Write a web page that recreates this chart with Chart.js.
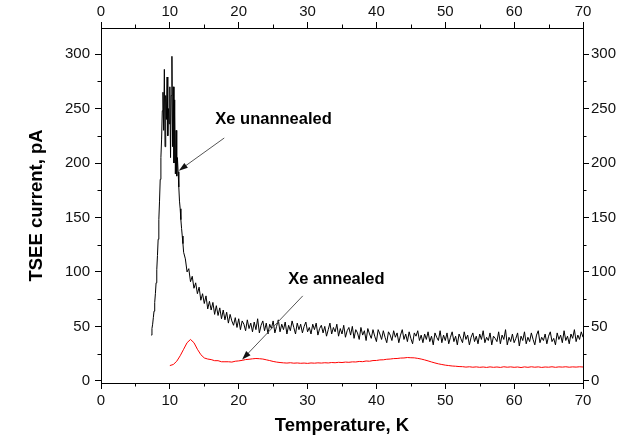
<!DOCTYPE html>
<html>
<head>
<meta charset="utf-8">
<script src="https://cdn.jsdelivr.net/npm/chart.js@4"></script>
<style>
  html, body { margin: 0; padding: 0; background: #fff; }
</style>
</head>
<body>
<canvas id="chart" width="625" height="440"></canvas>
<script>
// ---------------------------------------------------------------------
// Data (temperature in K, TSEE current in pA)
// ---------------------------------------------------------------------
const X_TICKS = [0, 10, 20, 30, 40, 50, 60, 70];
const Y_TICKS = [0, 50, 100, 150, 200, 250, 300];
const X_MINOR = [5, 15, 25, 35, 45, 55, 65];
const Y_MINOR = [25, 75, 125, 175, 225, 275];

// Xe unannealed, rise + peak, sampled every 0.1 K from 7.3 K
const unannealedPeakStart = 7.3;
const unannealedPeakStep = 0.1;
const unannealedPeak = [
  42, 48, 52, 58, 64, 72, 80, 90, 102, 115,
  130, 148, 165, 185, 205, 222, 248, 265, 230, 286,
  215, 262, 240, 279, 225, 250, 236, 270, 205, 262,
  298, 215, 270, 200, 258, 190, 230, 188, 205, 192,
  178, 165, 158, 148, 140, 133, 126, 118
];

// Xe unannealed, decay + noisy tail, sampled every 0.25 K from 12.25 K
const unannealedTailStart = 12.25;
const unannealedTailStep = 0.25;
const unannealedTail = [
  112, 100, 103, 91, 96, 85, 90, 80, 86, 74,
  80, 71, 78, 66, 73, 65, 72, 61, 69, 60,
  67, 57, 65, 56, 63, 53, 61, 55, 51, 58,
  49, 57, 47, 55, 52, 46, 56, 48, 53, 45,
  54, 47, 57, 44, 51, 55, 46, 53, 43, 52,
  48, 55, 44, 50, 56, 45, 52, 47, 54, 43,
  51, 46, 55, 49, 43, 53, 47, 52, 44, 50,
  54, 45, 49, 43, 52, 47, 53, 42, 48, 51,
  44, 50, 41, 47, 53, 43, 49, 45, 52, 41,
  48, 43, 51, 40, 46, 49, 42, 50, 39, 47,
  44, 38, 49, 42, 46, 37, 48, 43, 39, 47,
  41, 36, 47, 43, 38, 46, 40, 35, 45, 42,
  37, 46, 40, 44, 35, 42, 47, 38, 43, 36,
  45, 39, 34, 44, 41, 46, 37, 42, 35, 43,
  38, 45, 36, 41, 33, 44, 40, 37, 46, 35,
  42, 37, 44, 34, 40, 45, 36, 41, 33, 43,
  39, 35, 45, 38, 42, 33, 40, 44, 36, 41,
  34, 43, 38, 46, 35, 40, 37, 44, 33, 41,
  39, 36, 45, 34, 42, 38, 47, 33, 40, 36,
  43, 35, 39, 44, 32, 41, 37, 45, 34, 40,
  36, 44, 38, 33, 42, 46, 35, 40, 37, 43,
  34, 41, 45, 36, 39, 33, 44, 38, 42, 35,
  46, 37, 41, 34, 43, 39, 47, 36, 42, 38,
  45, 40
];

// Xe annealed, sampled every 0.5 K from 10 K
const annealedStart = 10.0;
const annealedStep = 0.5;
const annealed = [
  14, 15, 18, 23, 29, 35, 38, 35, 29, 24,
  21, 20, 19.5, 18.5, 18.5, 17.5, 17.5, 17.5, 17.2, 18,
  18.3, 18.8, 19.5, 19.8, 20.2, 20.5, 20.3, 20, 19.3, 18.6,
  17.8, 17.2, 16.8, 16.5, 16.3, 16.6, 16.2, 16.4, 16.1, 16.3,
  16.0, 16.4, 16.2, 16.5, 16.3, 16.6, 16.4, 16.8, 16.6, 17.0,
  16.8, 17.2, 17.0, 17.4, 17.3, 17.8, 17.6, 18.2, 18.0, 18.6,
  18.7, 19.2, 19.3, 19.8, 20.0, 20.4, 20.5, 20.9, 21.0, 21.4,
  21.2, 21.1, 20.6, 20.0, 19.2, 18.3, 17.3, 16.4, 15.6, 15.0,
  14.4, 14.0, 13.6, 13.4, 13.1, 13.0, 12.6, 12.9, 12.5, 12.8,
  12.4, 12.7, 12.3, 12.8, 12.4, 12.7, 12.3, 12.9, 12.5, 12.8,
  12.4, 12.7, 12.2, 12.8, 12.4, 12.9, 12.5, 12.8, 12.3, 12.7,
  12.5, 12.9, 12.4, 12.8, 12.6, 12.9, 12.5, 12.8, 12.6, 12.9,
  12.7
];

// Annotation labels and arrows, in data coordinates (K, pA)
const labels = [
  { text: "Xe unannealed", x: 16.6, y: 240 },
  { text: "Xe annealed", x: 27.2, y: 93 }
];
const arrows = [
  { from: [17.9, 223], to: [11.3, 193] },
  { from: [29.3, 78], to: [20.5, 19.5] }
];

// ---------------------------------------------------------------------
// Helpers
// ---------------------------------------------------------------------
function toPoints(start, step, values) {
  return values.map((v, i) => ({ x: +(start + i * step).toFixed(2), y: v }));
}

const unannealedPoints = toPoints(unannealedPeakStart, unannealedPeakStep, unannealedPeak)
  .concat(toPoints(unannealedTailStart, unannealedTailStep, unannealedTail));
const annealedPoints = toPoints(annealedStart, annealedStep, annealed);

const TICK_FONT = { family: "'Liberation Sans', Arial, sans-serif", size: 15 };
const TITLE_FONT = { family: "'Liberation Sans', Arial, sans-serif", size: 18.5, weight: "bold" };
const INK = "#111";

function axis(position, isX, size, tickPad, title) {
  const ticks = isX ? X_TICKS : Y_TICKS;
  return {
    type: "linear",
    position,
    min: isX ? 0 : -2,
    max: isX ? 70 : 324,
    afterBuildTicks: (s) => { s.ticks = ticks.map((v) => ({ value: v })); },
    afterFit: (s) => { if (isX) s.height = size; else s.width = size; },
    ticks: { color: INK, font: TICK_FONT, padding: tickPad, maxRotation: 0, autoSkip: false },
    grid: { display: true, drawOnChartArea: false, drawTicks: true, tickLength: 6, tickColor: "#000", tickWidth: 1 },
    border: { display: true, color: "#000", width: 1 },
    title: title
      ? { display: true, text: title.text, color: "#000", font: TITLE_FONT, padding: title.padding }
      : { display: false }
  };
}

// ---------------------------------------------------------------------
// Minor ticks on all four sides + annotation labels / arrows
// ---------------------------------------------------------------------
const minorTicks = {
  id: "minorTicks",
  afterDraw(chart) {
    const { ctx, chartArea: a, scales } = chart;
    ctx.save();
    ctx.strokeStyle = "#000";
    ctx.lineWidth = 1;
    ctx.beginPath();
    X_MINOR.forEach((v) => {
      const px = Math.round(scales.x.getPixelForValue(v)) + 0.5;
      ctx.moveTo(px, a.bottom); ctx.lineTo(px, a.bottom + 3.5);
      ctx.moveTo(px, a.top); ctx.lineTo(px, a.top - 3.5);
    });
    Y_MINOR.forEach((v) => {
      const py = Math.round(scales.y.getPixelForValue(v)) + 0.5;
      ctx.moveTo(a.left, py); ctx.lineTo(a.left - 3.5, py);
      ctx.moveTo(a.right, py); ctx.lineTo(a.right + 3.5, py);
    });
    ctx.stroke();
    ctx.restore();
  }
};

const notes = {
  id: "notes",
  afterDatasetsDraw(chart) {
    const { ctx, scales: { x, y } } = chart;
    ctx.save();
    arrows.forEach((ar) => {
      const x1 = x.getPixelForValue(ar.from[0]), y1 = y.getPixelForValue(ar.from[1]);
      const x2 = x.getPixelForValue(ar.to[0]), y2 = y.getPixelForValue(ar.to[1]);
      const ang = Math.atan2(y2 - y1, x2 - x1);
      ctx.strokeStyle = "#555";
      ctx.lineWidth = 1;
      ctx.beginPath();
      ctx.moveTo(x1, y1);
      ctx.lineTo(x2 - 6 * Math.cos(ang), y2 - 6 * Math.sin(ang));
      ctx.stroke();
      ctx.fillStyle = "#111";
      ctx.beginPath();
      ctx.moveTo(x2, y2);
      ctx.lineTo(x2 - 9 * Math.cos(ang) + 3 * Math.sin(ang), y2 - 9 * Math.sin(ang) - 3 * Math.cos(ang));
      ctx.lineTo(x2 - 9 * Math.cos(ang) - 3 * Math.sin(ang), y2 - 9 * Math.sin(ang) + 3 * Math.cos(ang));
      ctx.closePath();
      ctx.fill();
    });
    ctx.fillStyle = "#000";
    ctx.font = "bold 16.5px 'Liberation Sans', Arial, sans-serif";
    ctx.textBaseline = "middle";
    ctx.textAlign = "left";
    labels.forEach((l) => {
      ctx.fillText(l.text, x.getPixelForValue(l.x), y.getPixelForValue(l.y));
    });
    ctx.restore();
  }
};

// ---------------------------------------------------------------------
// Chart
// ---------------------------------------------------------------------
new Chart(document.getElementById("chart").getContext("2d"), {
  type: "line",
  data: {
    datasets: [
      {
        label: "Xe unannealed",
        data: unannealedPoints,
        borderColor: "#000",
        borderWidth: 1,
        pointRadius: 0,
        tension: 0
      },
      {
        label: "Xe annealed",
        data: annealedPoints,
        borderColor: "#ff0000",
        borderWidth: 1,
        pointRadius: 0,
        tension: 0
      }
    ]
  },
  options: {
    responsive: false,
    animation: false,
    devicePixelRatio: 1,
    layout: { padding: 0 },
    plugins: { legend: { display: false }, tooltip: { enabled: false } },
    scales: {
      x: axis("bottom", true, 57, 3, { text: "Temperature, K", padding: { top: 0, bottom: 3 } }),
      x2: axis("top", true, 28, 1, null),
      y: axis("left", false, 101, 5, { text: "TSEE current, pA", padding: { top: 26, bottom: 0 } }),
      y2: axis("right", false, 42, 2, null)
    }
  },
  plugins: [minorTicks, notes]
});
</script>
</body>
</html>
